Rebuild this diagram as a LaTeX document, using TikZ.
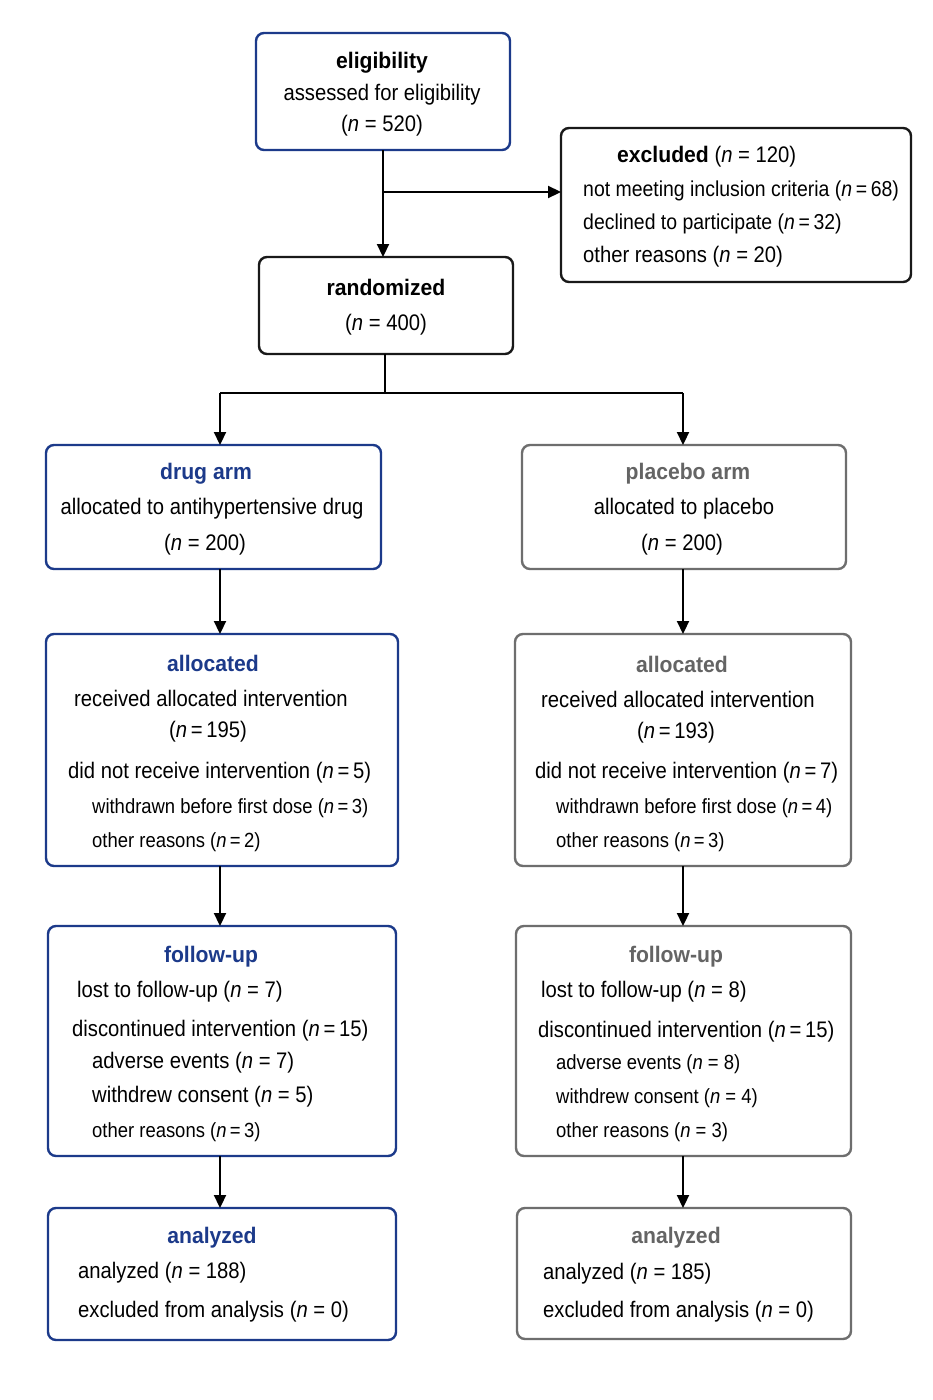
\documentclass[tikz,border=0pt]{standalone}
\usepackage{fontspec}
\setmainfont{Liberation Sans}[FakeStretch=0.9, BoldFeatures={FakeStretch=0.94}]
\usetikzlibrary{arrows.meta}
\definecolor{myblue}{RGB}{28,58,138}
\definecolor{mygray}{RGB}{110,110,110}
\definecolor{titlegray}{RGB}{100,100,100}
\definecolor{myblack}{RGB}{25,25,25}
\newcommand{\nn}{\textit{n}}
\tikzset{
  boxbase/.style={rounded corners=8pt, line width=2.4pt, inner sep=0pt, outer sep=0pt, fill=white},
  bluebox/.style={boxbase, draw=myblue},
  blackbox/.style={boxbase, draw=myblack},
  graybox/.style={boxbase, draw=mygray},
  txtbase/.style={inner sep=0pt, yshift=-4.5pt},
  main/.style={txtbase, font=\fontsize{22.5}{26}\selectfont, text=black},
  tight/.style={txtbase, font=\fontsize{21.6}{26}\selectfont, text=black},
  sub/.style={txtbase, font=\fontsize{20.5}{24}\selectfont, text=black},
  ttl/.style={txtbase, font=\fontsize{22.5}{26}\selectfont\bfseries},
  bt/.style={ttl, text=myblue},
  gt/.style={ttl, text=titlegray},
  kt/.style={ttl, text=black},
  arr/.style={line width=2.2pt, draw=black, -{Triangle[length=13pt,width=12pt]}},
  ln/.style={line width=2.2pt, draw=black},
}
\begin{document}
\begin{tikzpicture}[x=1pt,y=-1pt]
\useasboundingbox[fill=white] (0,0) rectangle (933,1400);
% boxes
\node[bluebox, minimum width=254pt, minimum height=117pt] (elig) at (383,91.5) {};
\node[blackbox, minimum width=350pt, minimum height=154pt] (excl) at (736,205) {};
\node[blackbox, minimum width=254pt, minimum height=97pt] (rand) at (386,305.5) {};
\node[bluebox, minimum width=335pt, minimum height=124pt] (drug) at (213.5,507) {};
\node[graybox, minimum width=324pt, minimum height=124pt] (plac) at (684,507) {};
\node[bluebox, minimum width=352pt, minimum height=232pt] (allocL) at (222,750) {};
\node[graybox, minimum width=336pt, minimum height=232pt] (allocR) at (683,750) {};
\node[bluebox, minimum width=348pt, minimum height=230pt] (fuL) at (222,1041) {};
\node[graybox, minimum width=335pt, minimum height=230pt] (fuR) at (683.5,1041) {};
\node[bluebox, minimum width=348pt, minimum height=132pt] (anL) at (222,1274) {};
\node[graybox, minimum width=334pt, minimum height=131pt] (anR) at (684,1273.5) {};

% eligibility text
\node[kt, anchor=mid] (e1) at (382,61) {eligibility};
\node[main, anchor=mid] (e2) at (382,93) {assessed for eligibility};
\node[main, anchor=mid] (e3) at (382,124) {(\nn{} = 520)};
% excluded text
\node[main, anchor=mid west] (x1) at (617,155) {\textbf{excluded} (\nn{} = 120)};
\node[tight, anchor=mid west] (x2) at (583,189) {not meeting inclusion criteria (\nn{}\,=\,68)};
\node[tight, anchor=mid west] (x3) at (583,222) {declined to participate (\nn{}\,=\,32)};
\node[main, anchor=mid west] (x4) at (583,255) {other reasons (\nn{} = 20)};
% randomized
\node[kt, anchor=mid] (r1) at (386,288) {randomized};
\node[main, anchor=mid] (r2) at (386,323) {(\nn{} = 400)};
% drug arm
\node[bt, anchor=mid] (d1) at (206,472) {drug arm};
\node[main, anchor=mid] (d2) at (212,507) {allocated to antihypertensive drug};
\node[main, anchor=mid] (d3) at (205,543) {(\nn{} = 200)};
% placebo arm
\node[gt, anchor=mid] (p1) at (688,472) {placebo arm};
\node[main, anchor=mid] (p2) at (684,507) {allocated to placebo};
\node[main, anchor=mid] (p3) at (682,543) {(\nn{} = 200)};
% allocated left
\node[bt, anchor=mid] (aL1) at (213,664) {allocated};
\node[main, anchor=mid] (aL2) at (211,699) {received allocated intervention};
\node[main, anchor=mid] (aL3) at (208,730) {(\nn{}\,=\,195)};
\node[main, anchor=mid west] (aL4) at (68,771) {did not receive intervention (\nn{}\,=\,5)};
\node[sub, anchor=mid west] (aL5) at (92,806) {withdrawn before first dose (\nn{}\,=\,3)};
\node[sub, anchor=mid west] (aL6) at (92,840) {other reasons (\nn{}\,=\,2)};
% allocated right
\node[gt, anchor=mid] (aR1) at (682,665) {allocated};
\node[main, anchor=mid] (aR2) at (678,700) {received allocated intervention};
\node[main, anchor=mid] (aR3) at (676,731) {(\nn{}\,=\,193)};
\node[main, anchor=mid west] (aR4) at (535,771) {did not receive intervention (\nn{}\,=\,7)};
\node[sub, anchor=mid west] (aR5) at (556,806) {withdrawn before first dose (\nn{}\,=\,4)};
\node[sub, anchor=mid west] (aR6) at (556,840) {other reasons (\nn{}\,=\,3)};
% follow-up left
\node[bt, anchor=mid] (fL1) at (211,955) {follow-up};
\node[main, anchor=mid west] (fL2) at (77,990) {lost to follow-up (\nn{} = 7)};
\node[main, anchor=mid west] (fL3) at (72,1029) {discontinued intervention (\nn{}\,=\,15)};
\node[main, anchor=mid west] (fL4) at (92,1061) {adverse events (\nn{} = 7)};
\node[main, anchor=mid west] (fL5) at (92,1095) {withdrew consent (\nn{} = 5)};
\node[sub, anchor=mid west] (fL6) at (92,1130) {other reasons (\nn{}\,=\,3)};
% follow-up right
\node[gt, anchor=mid] (fR1) at (676,955) {follow-up};
\node[main, anchor=mid west] (fR2) at (541,990) {lost to follow-up (\nn{} = 8)};
\node[main, anchor=mid west] (fR3) at (538,1030) {discontinued intervention (\nn{}\,=\,15)};
\node[sub, anchor=mid west] (fR4) at (556,1062) {adverse events (\nn{} = 8)};
\node[sub, anchor=mid west] (fR5) at (556,1096) {withdrew consent (\nn{} = 4)};
\node[sub, anchor=mid west] (fR6) at (556,1130) {other reasons (\nn{} = 3)};
% analyzed left
\node[bt, anchor=mid] (nL1) at (212,1236) {analyzed};
\node[main, anchor=mid west] (nL2) at (78,1271) {analyzed (\nn{} = 188)};
\node[main, anchor=mid west] (nL3) at (78,1310) {excluded from analysis (\nn{} = 0)};
% analyzed right
\node[gt, anchor=mid] (nR1) at (676,1236) {analyzed};
\node[main, anchor=mid west] (nR2) at (543,1272) {analyzed (\nn{} = 185)};
\node[main, anchor=mid west] (nR3) at (543,1310) {excluded from analysis (\nn{} = 0)};

% connectors
\coordinate (jx) at (383,192);
\draw[arr] (elig.south) -- (elig.south |- rand.north);
\draw[arr] (jx) -- (excl.west |- jx);
\coordinate (split) at (385,393);
\coordinate (colL) at (220,0);
\coordinate (colR) at (683,0);
\draw[ln] (rand.south -| split) -- (split);
\draw[ln] (colL |- split) -- (colR |- split);
\draw[arr] (colL |- split) -- (colL |- drug.north);
\draw[arr] (colR |- split) -- (colR |- plac.north);
\draw[arr] (colL |- drug.south) -- (colL |- allocL.north);
\draw[arr] (colR |- plac.south) -- (colR |- allocR.north);
\draw[arr] (colL |- allocL.south) -- (colL |- fuL.north);
\draw[arr] (colR |- allocR.south) -- (colR |- fuR.north);
\draw[arr] (colL |- fuL.south) -- (colL |- anL.north);
\draw[arr] (colR |- fuR.south) -- (colR |- anR.north);
\end{tikzpicture}
\end{document}
